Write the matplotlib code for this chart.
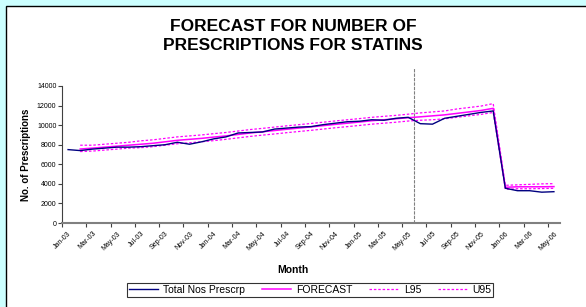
import matplotlib.pyplot as plt
import matplotlib.patches as patches
import numpy as np

months = ["Jan-03", "Feb-03", "Mar-03", "Apr-03", "May-03", "Jun-03", "Jul-03", "Aug-03",
          "Sep-03", "Oct-03", "Nov-03", "Dec-03", "Jan-04", "Feb-04", "Mar-04", "Apr-04",
          "May-04", "Jun-04", "Jul-04", "Aug-04", "Sep-04", "Oct-04", "Nov-04", "Dec-04",
          "Jan-05", "Feb-05", "Mar-05", "Apr-05", "May-05", "Jun-05", "Jul-05", "Aug-05",
          "Sep-05", "Oct-05", "Nov-05", "Dec-05", "Jan-06", "Feb-06", "Mar-06", "Apr-06",
          "May-06"]

total = [7500, 7400, 7550, 7650, 7750, 7750, 7800, 7900, 8000, 8250, 8050, 8300,
         8600, 8800, 9200, 9250, 9300, 9600, 9700, 9800, 9850, 10050, 10200, 10350,
         10400, 10550, 10500, 10700, 10800, 10150, 10100, 10700, 10900, 11100, 11300,
         11450, 3550, 3300, 3300, 3150, 3200]

# forecast series start at Feb-03
forecast = [7560, 7650, 7750, 7850, 7950, 8050, 8150, 8300, 8450, 8550, 8650,
            8780, 8900, 9050, 9200, 9320, 9450, 9580, 9700, 9820, 9950, 10080,
            10200, 10320, 10450, 10550, 10650, 10760, 10850, 10950, 11050, 11200,
            11350, 11500, 11720, 3650, 3700, 3700, 3700, 3720]
l95 = [7300, 7350, 7450, 7550, 7650, 7700, 7800, 7950, 8100, 8200, 8300,
       8420, 8550, 8700, 8850, 8980, 9100, 9230, 9350, 9470, 9600, 9730,
       9850, 9970, 10100, 10200, 10300, 10420, 10500, 10550, 10650, 10800,
       10950, 11100, 11300, 3450, 3500, 3500, 3520, 3550]
u95 = [7950, 7950, 8050, 8150, 8250, 8400, 8500, 8650, 8800, 8900, 9000,
       9130, 9250, 9400, 9550, 9670, 9800, 9930, 10050, 10170, 10300, 10430,
       10550, 10670, 10800, 10900, 11000, 11120, 11250, 11350, 11450, 11650,
       11800, 11950, 12200, 3850, 3900, 3950, 4000, 4020]

split_pos = 28.5  # boundary between May-05 and Jun-05


def main():
    plt.rcParams['font.family'] = ['Liberation Sans', 'DejaVu Sans']
    fig = plt.figure(figsize=(5.86, 3.07), dpi=100, facecolor='#CCFFFF')

    # white chart panel with black border
    panel = patches.Rectangle((6 / 586, -0.05), 1.2, 1 - 6 / 307 + 0.05,
                              transform=fig.transFigure, facecolor='white',
                              edgecolor='black', linewidth=1.0, zorder=-10)
    fig.patches.append(panel)

    ax = fig.add_axes([62 / 586, 1 - 223 / 307, (560 - 62) / 586, (223 - 86) / 307])
    ax.set_facecolor('none')

    x = np.arange(len(months))
    xf = np.arange(1, len(months))

    ax.plot(x, total, color='#000080', lw=1.0, label='Total Nos Prescrp', zorder=4)
    ax.plot(xf, forecast, color='#FF00FF', lw=1.1, label='FORECAST', zorder=3)
    ax.plot(xf, l95, color='#FF00FF', lw=0.9, ls=(0, (2, 1.5)), label='L95', zorder=2)
    ax.plot(xf, u95, color='#FF00FF', lw=0.9, ls=(0, (2, 1.5)), label='U95', zorder=2)

    ax.plot([split_pos, split_pos], [0, 15800], color='#808080', lw=0.8,
            ls=(0, (3, 1)), clip_on=False, zorder=1)

    ax.set_xlim(-0.5, len(months) - 0.5)
    ax.set_ylim(0, 14000)
    ax.set_yticks(np.arange(0, 14001, 2000))
    ax.tick_params(axis='y', labelsize=5, length=3, width=0.8, color='#404040', pad=1)

    ax.set_xticks(np.arange(-0.5, len(months), 2))
    ax.set_xticklabels([])
    ax.set_xticks(x[::2], minor=True)
    ax.set_xticklabels(months[::2], minor=True, rotation=45, ha='right', va='top',
                       rotation_mode='anchor', fontsize=5)
    ax.tick_params(axis='x', which='major', length=3, width=0.8, color='#404040')
    ax.tick_params(axis='x', which='minor', length=0, pad=5)

    for side in ['top', 'right']:
        ax.spines[side].set_visible(False)
    ax.spines['left'].set_color('#404040')
    ax.spines['bottom'].set_color('#808080')
    ax.spines['bottom'].set_linewidth(1.5)

    ax.set_ylabel('No. of Prescriptions', fontsize=7, fontweight='bold', labelpad=4)
    fig.text(0.5, 1 - 270 / 307, 'Month', fontsize=7.5, fontweight='bold',
             ha='center', va='center')
    fig.text(0.5, 1 - 36 / 307, 'FORECAST FOR NUMBER OF\nPRESCRIPTIONS FOR STATINS',
             fontsize=12.5, fontweight='bold', ha='center', va='center', linespacing=1.35)

    leg = fig.legend(loc='center', bbox_to_anchor=(310 / 586, 1 - 290 / 307), ncol=4,
                     fontsize=7.5, frameon=True, fancybox=False, edgecolor='black',
                     handlelength=2.8, columnspacing=1.6, handletextpad=0.5,
                     borderpad=0.2)
    leg.get_frame().set_linewidth(0.8)

    fig.savefig('out.png', dpi=100, facecolor=fig.get_facecolor())


if __name__ == '__main__':
    main()
